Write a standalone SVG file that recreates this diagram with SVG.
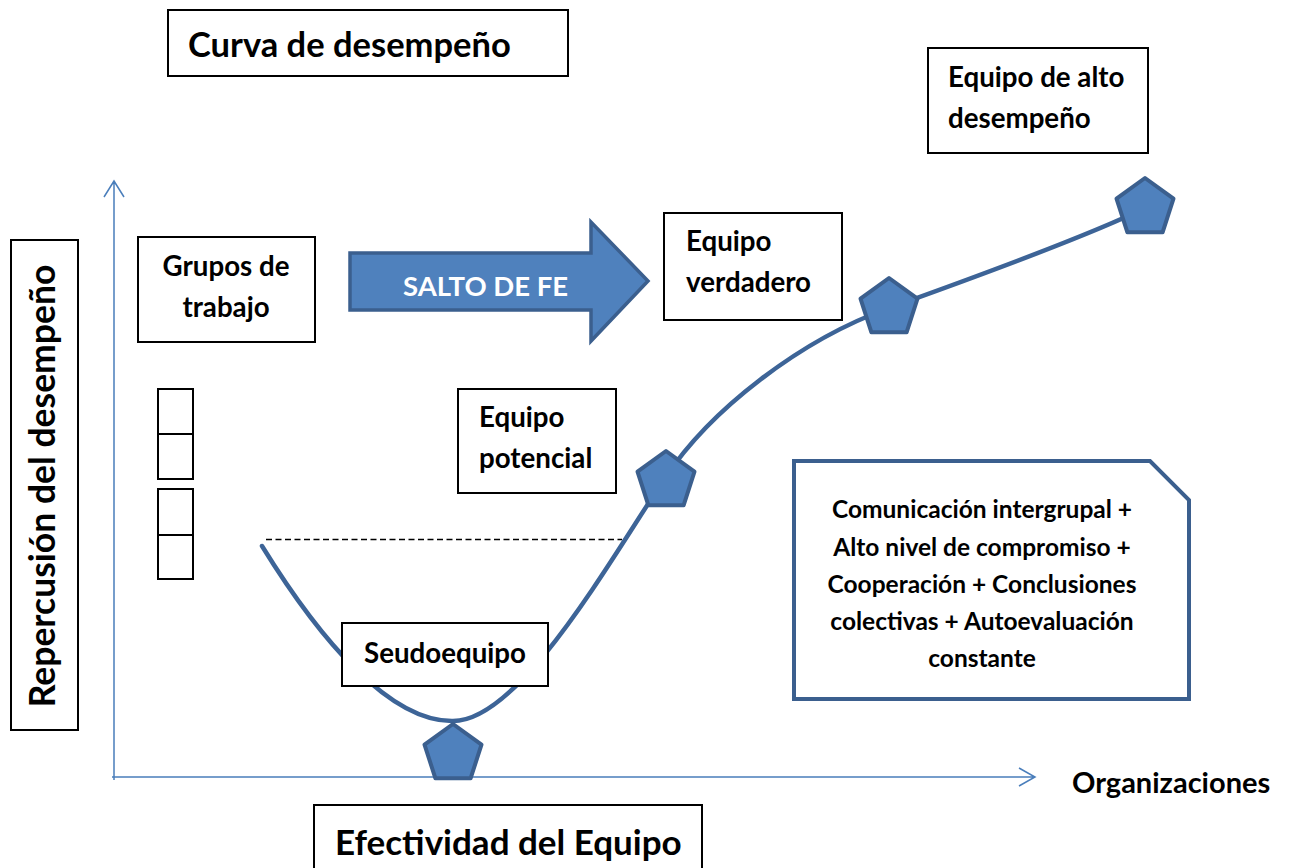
<svg xmlns="http://www.w3.org/2000/svg" width="1291" height="868" viewBox="0 0 1291 868">
<style>
.box{fill:#fff;stroke:#000;stroke-width:2}
.t{font-family:Lato,"Open Sans","Liberation Sans",sans-serif;font-weight:bold;fill:#000}
.big{font-size:34.5px}
.body{font-size:27.7px}
.note{font-size:24.5px}
.axis{stroke:#4A7EBB;stroke-width:1.5;fill:none}
.pent{fill:#4F81BD;stroke:#3B5F8E;stroke-width:4;stroke-linejoin:round}
.curve{fill:none;stroke:#3D6497;stroke-width:4.5;stroke-linecap:round}
</style>
<defs>
<polygon id="pg" points="0,-30 28.5,-9.3 17.6,24.3 -17.6,24.3 -28.5,-9.3"/>
</defs>
<rect width="1291" height="868" fill="#fff"/>

<g id="connectors">
<path class="axis" d="M114,780 V181 M104,197 L114,181 L124,197"/>
<path class="axis" d="M112,777 H1034 M1019,768 L1035,777 L1019,786"/>
<line x1="266" y1="539.5" x2="622" y2="539.5" stroke="#000" stroke-width="1.5" stroke-dasharray="6,3.5"/>
<path class="curve" d="M262,546 C320,640 390,722 453,721 C520,721 610,560 665,478 C710,410 800,340 889,308 C929,293.6 1080,240 1145,208"/>
</g>

<g id="title">
<rect class="box" x="168" y="10" width="400" height="66"/>
<text class="t big" x="188" y="57">Curva de desempeño</text>
</g>

<g id="alto">
<rect class="box" x="928" y="48" width="220" height="105"/>
<text class="t body" x="948" y="87">Equipo de alto</text>
<text class="t body" x="948" y="128">desempeño</text>
</g>

<g id="yaxis-label">
<rect class="box" x="11" y="240" width="67" height="490"/>
<text class="t" font-size="35.5" text-anchor="middle" transform="translate(55,486) rotate(-90)">Repercusión del desempeño</text>
</g>

<g id="grupos">
<rect class="box" x="138" y="237" width="177" height="105"/>
<text class="t body" x="226" y="276" text-anchor="middle">Grupos de</text>
<text class="t body" x="226" y="317" text-anchor="middle">trabajo</text>
</g>

<g id="small-boxes">
<rect class="box" x="158" y="389" width="35" height="45"/>
<rect class="box" x="158" y="434" width="35" height="45"/>
<rect class="box" x="158" y="489" width="35" height="46"/>
<rect class="box" x="158" y="535" width="35" height="44"/>
</g>

<g id="salto">
<polygon points="350,253 591,253 591,222 648,281 591,341 591,310 350,310" fill="#4F81BD" stroke="#3B5F8E" stroke-width="3.5" stroke-linejoin="miter"/>
<text class="t" x="403" y="296" font-size="27.5" style="fill:#fff">SALTO DE FE</text>
</g>

<g id="verdadero">
<rect class="box" x="664" y="213" width="178" height="107"/>
<text class="t body" x="686" y="251">Equipo</text>
<text class="t body" x="686" y="292">verdadero</text>
</g>

<g id="potencial">
<rect class="box" x="458" y="389" width="158" height="104"/>
<text class="t body" x="479" y="427">Equipo</text>
<text class="t body" x="479" y="468">potencial</text>
</g>

<g id="seudoequipo">
<rect class="box" x="342" y="623" width="206" height="63"/>
<text class="t body" x="445" y="663" text-anchor="middle">Seudoequipo</text>
</g>

<g id="pentagons">
<use href="#pg" class="pent" x="453" y="754"/>
<use href="#pg" class="pent" x="666" y="481"/>
<use href="#pg" class="pent" x="889" y="308"/>
<use href="#pg" class="pent" x="1145" y="208"/>
</g>

<g id="note">
<path d="M794,461 H1150 L1189,500 V699 H794 Z" fill="#fff" stroke="#3B5F8E" stroke-width="4"/>
<text class="t note" text-anchor="middle" x="982" y="518">Comunicación intergrupal +</text>
<text class="t note" text-anchor="middle" x="982" y="556">Alto nivel de compromiso +</text>
<text class="t note" text-anchor="middle" x="982" y="593">Cooperación + Conclusiones</text>
<text class="t note" text-anchor="middle" x="982" y="630">colectivas + Autoevaluación</text>
<text class="t note" text-anchor="middle" x="982" y="667">constante</text>
</g>

<g id="organizaciones">
<text class="t" font-size="29" x="1072" y="793">Organizaciones</text>
</g>

<g id="efectividad">
<rect class="box" x="314" y="805" width="388" height="70"/>
<text class="t" font-size="35" x="335" y="855">Efectividad del Equipo</text>
</g>
</svg>
